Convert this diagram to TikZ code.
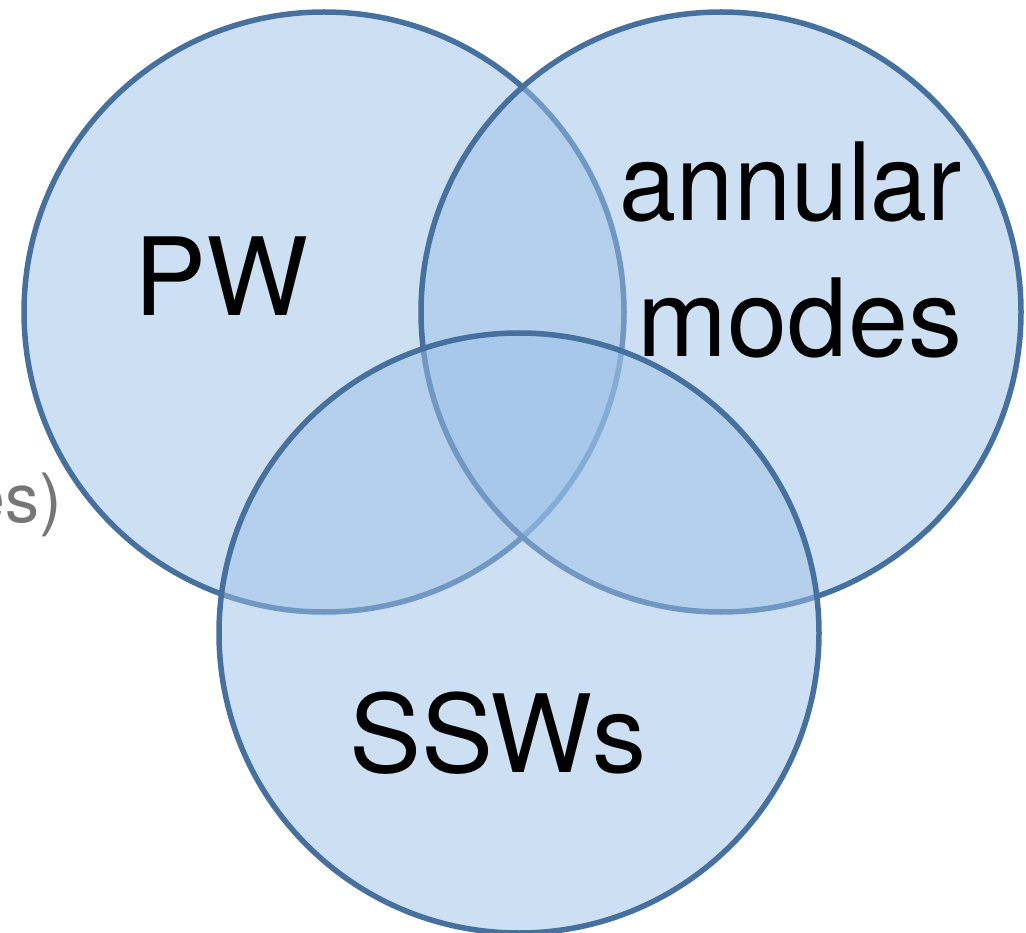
\documentclass[tikz,border=0pt]{standalone}
\usepackage{fontspec}
\setmainfont{TeX Gyre Heros}
\definecolor{vfill}{RGB}{155,192,231}
\definecolor{vline}{RGB}{70,112,158}
\definecolor{ghost}{RGB}{118,118,118}
\begin{document}
\begin{tikzpicture}[x=1pt,y=-1pt,
  vcirc/.style={circle, minimum size=600pt, inner sep=0pt, outer sep=0pt,
    fill=vfill, fill opacity=0.5, draw=vline, draw opacity=1, line width=5.5pt},
  vlabel/.style={anchor=base, inner sep=0pt, font=\fontsize{108}{130}\selectfont, text=black}]
\useasboundingbox (0,0) rectangle (1026,933);
\begin{scope}
\clip (0,0) rectangle (1026,933);
\node[anchor=base east, inner sep=0pt, text=ghost, font=\fontsize{68}{80}\selectfont] (ghosttext) at (62,522) {es)};
\node[vcirc] (pw) at (324,312) {};
\node[vcirc] (am) at (721,312) {};
\node[vcirc] (ssw) at (519,633) {};
\end{scope}
\node[vlabel] (pwlabel) at (221,316) {PW};
\node[vlabel, xscale=0.95] (amlabel1) at (791,221) {annular};
\node[vlabel] (amlabel2) at (800,357) {modes};
\node[vlabel] (sswlabel) at (498,772) {SSWs};
\end{tikzpicture}
\end{document}
